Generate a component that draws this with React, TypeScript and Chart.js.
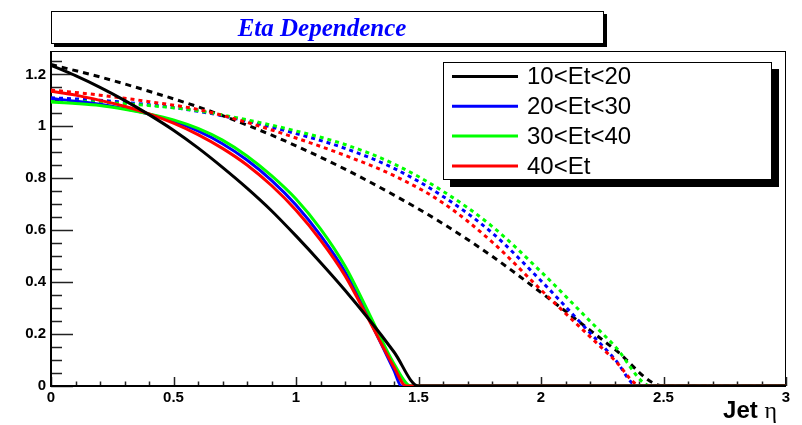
import React, { useEffect, useRef } from "react";
import { Chart, registerables } from "chart.js";

Chart.register(...registerables);

// ---- data ----
const seriesLabels = ["10<Et<20", "20<Et<30", "30<Et<40", "40<Et"];
const seriesColors = ["#000000", "#0000ff", "#00ff00", "#ff0000"];

// solid curves
const etaSolid = [0, 0.1, 0.2, 0.3, 0.4, 0.5, 0.6, 0.7, 0.8, 0.9, 1.0, 1.1, 1.2, 1.3, 1.4];
const solidEt10 = [1.235, 1.195, 1.15, 1.1, 1.045, 0.985, 0.917, 0.842, 0.762, 0.675, 0.578, 0.476, 0.369, 0.254, 0.131];
const solidEt20 = [1.107, 1.097, 1.085, 1.068, 1.047, 1.02, 0.982, 0.933, 0.87, 0.792, 0.697, 0.58, 0.44, 0.255, 0.06];
const solidEt30 = [1.094, 1.088, 1.08, 1.066, 1.048, 1.025, 0.992, 0.947, 0.886, 0.81, 0.72, 0.605, 0.462, 0.276, 0.086];
const solidEt40 = [1.135, 1.12, 1.1, 1.077, 1.048, 1.012, 0.968, 0.915, 0.851, 0.772, 0.677, 0.562, 0.425, 0.25, 0.073];
const solidZeroAt = [1.5, 1.43, 1.47, 1.45];

// dashed curves
const etaDashed = [0, 0.2, 0.4, 0.6, 0.8, 1.0, 1.2, 1.4, 1.6, 1.8, 2.0, 2.2, 2.3];
const dashedEt10 = [1.238, 1.19, 1.135, 1.075, 1.005, 0.925, 0.835, 0.735, 0.625, 0.5, 0.36, 0.215, 0.142];
const dashedEt20 = [1.11, 1.1, 1.083, 1.058, 1.02, 0.972, 0.915, 0.838, 0.73, 0.59, 0.405, 0.205, 0.105];
const dashedEt30 = [1.1, 1.093, 1.08, 1.06, 1.025, 0.982, 0.93, 0.855, 0.75, 0.615, 0.44, 0.25, 0.155];
const dashedEt40 = [1.14, 1.12, 1.095, 1.065, 1.015, 0.955, 0.888, 0.81, 0.705, 0.555, 0.37, 0.19, 0.1];
const dashedZeroAt = [2.5, 2.395, 2.45, 2.41];

const etaMax = 3;
const xTickValues = [0, 0.5, 1, 1.5, 2, 2.5, 3];
const xTickLabels = ["0", "0.5", "1", "1.5", "2", "2.5", "3"];
const yTickValues = [0, 0.2, 0.4, 0.6, 0.8, 1.0, 1.2];
const yTickLabels = ["0", "0.2", "0.4", "0.6", "0.8", "1", "1.2"];
const yMax = 1.29;

const titleText = "Eta Dependence";

const SANS = "'Liberation Sans', Arial, Helvetica, sans-serif";
const SERIF = "'Liberation Serif', 'Times New Roman', serif";

function buildCurve(xs: number[], ys: number[], zeroAt: number) {
  const pts = xs.map((x, i) => ({ x, y: ys[i] }));
  pts.push({ x: zeroAt, y: 0 });
  pts.push({ x: etaMax, y: 0 });
  return pts;
}

const framePlugin = {
  id: "rootFrame",
  beforeDatasetsDraw(chart: any) {
    const ctx = chart.ctx;
    const { left, right, top, bottom } = chart.chartArea;
    const xs = chart.scales.x;
    const ys = chart.scales.y;
    ctx.save();
    // frame
    ctx.strokeStyle = "#000";
    ctx.lineWidth = 1;
    ctx.strokeRect(left + 0.5, top + 0.5, right - left - 1, bottom - top - 1);
    // ticks
    ctx.strokeStyle = "#222";
    ctx.lineWidth = 1.5;
    ctx.beginPath();
    for (let i = 0; i <= 30; i++) {
      const v = i * 0.1;
      const px = Math.round(xs.getPixelForValue(v)) + 0.5;
      const len = i % 5 === 0 ? 9 : 4.5;
      ctx.moveTo(px, bottom);
      ctx.lineTo(px, bottom - len);
    }
    for (let i = 0; i <= 25; i++) {
      const v = i * 0.05;
      if (v > yMax) break;
      const py = Math.round(ys.getPixelForValue(v)) + 0.5;
      const len = i % 4 === 0 ? 22 : 11;
      ctx.moveTo(left, py);
      ctx.lineTo(left + len, py);
    }
    ctx.stroke();
    // axis lines
    ctx.strokeStyle = "#000";
    ctx.lineWidth = 2;
    ctx.beginPath();
    ctx.moveTo(left, top);
    ctx.lineTo(left, bottom);
    ctx.lineTo(right, bottom);
    ctx.stroke();
    ctx.restore();
  },
  afterDatasetsDraw(chart: any) {
    const ctx = chart.ctx;
    ctx.save();
    // title box
    const tx = 51, ty = 11, tw = 553, th = 33;
    ctx.fillStyle = "#000";
    ctx.fillRect(tx + 3, ty + 3, tw, th);
    ctx.fillStyle = "#fff";
    ctx.fillRect(tx, ty, tw, th);
    ctx.strokeStyle = "#000";
    ctx.lineWidth = 1;
    ctx.strokeRect(tx + 0.5, ty + 0.5, tw - 1, th - 1);
    ctx.fillStyle = "#0000ff";
    ctx.font = `italic bold 25px ${SERIF}`;
    ctx.textAlign = "center";
    ctx.textBaseline = "alphabetic";
    ctx.fillText(titleText, 322, 36);

    // legend
    const lx = 443, ly = 62, lw = 329, lh = 118;
    ctx.fillStyle = "#000";
    ctx.fillRect(lx + 7, ly + 7, lw, lh);
    ctx.fillStyle = "#fff";
    ctx.fillRect(lx, ly, lw, lh);
    ctx.strokeStyle = "#000";
    ctx.lineWidth = 1;
    ctx.strokeRect(lx + 0.5, ly + 0.5, lw - 1, lh - 1);
    ctx.font = `24px ${SANS}`;
    ctx.textAlign = "left";
    ctx.textBaseline = "middle";
    seriesLabels.forEach((lab, i) => {
      const yRow = 76.5 + i * 29.8;
      ctx.strokeStyle = seriesColors[i];
      ctx.lineWidth = 3;
      ctx.beginPath();
      ctx.moveTo(452, yRow);
      ctx.lineTo(518, yRow);
      ctx.stroke();
      ctx.fillStyle = "#000";
      ctx.fillText(lab, 527, yRow + 1);
    });

    // x axis title
    ctx.textBaseline = "alphabetic";
    ctx.textAlign = "left";
    ctx.font = `bold 24px ${SANS}`;
    const jetW = ctx.measureText("Jet ").width;
    ctx.font = `24px ${SERIF}`;
    const etaW = ctx.measureText("\u03b7").width;
    const endX = 777;
    const startX = endX - etaW - jetW;
    ctx.fillStyle = "#000";
    ctx.font = `bold 24px ${SANS}`;
    ctx.fillText("Jet ", startX, 418);
    ctx.font = `24px ${SERIF}`;
    ctx.fillText("\u03b7", startX + jetW, 418);
    ctx.restore();
  },
};

export default function App() {
  const ref = useRef<HTMLCanvasElement>(null);
  useEffect(() => {
    if (!ref.current) return;
    const solidVals = [solidEt10, solidEt20, solidEt30, solidEt40];
    const dashedVals = [dashedEt10, dashedEt20, dashedEt30, dashedEt40];
    const datasets: any[] = [];
    dashedVals.forEach((vals, i) => {
      datasets.push({
        label: seriesLabels[i] + " dashed",
        data: buildCurve(etaDashed, vals, dashedZeroAt[i]),
        borderColor: seriesColors[i],
        borderWidth: 3,
        borderDash: i === 0 ? [6, 5] : [4, 4],
        pointRadius: 0,
        fill: false,
        cubicInterpolationMode: "monotone",
        order: 10 - i,
      });
    });
    solidVals.forEach((vals, i) => {
      datasets.push({
        label: seriesLabels[i],
        data: buildCurve(etaSolid, vals, solidZeroAt[i]),
        borderColor: seriesColors[i],
        borderWidth: 3,
        pointRadius: 0,
        fill: false,
        cubicInterpolationMode: "monotone",
        order: i === 0 ? 0 : 5 - i,
      });
    });

    const tickFont = { family: SANS, size: 15, weight: "bold" as const };
    const chart = new Chart(ref.current, {
      type: "line",
      data: { datasets },
      options: {
        animation: false,
        responsive: false,
        devicePixelRatio: 1,
        parsing: false as any,
        layout: { padding: { left: 0, right: 16, top: 51, bottom: 0 } },
        plugins: { legend: { display: false }, tooltip: { enabled: false }, title: { display: false } },
        scales: {
          x: {
            type: "linear",
            min: 0,
            max: etaMax,
            afterBuildTicks: (s: any) => {
              s.ticks = xTickValues.map((v) => ({ value: v }));
            },
            afterFit: (s: any) => {
              s.height = 39;
            },
            ticks: {
              callback: (_v: any, i: number) => xTickLabels[i],
              font: tickFont,
              color: "#000",
              padding: 3,
              maxRotation: 0,
              autoSkip: false,
            },
            grid: { display: false, drawTicks: false },
            border: { display: false },
          },
          y: {
            type: "linear",
            min: 0,
            max: yMax,
            afterBuildTicks: (s: any) => {
              s.ticks = yTickValues.map((v) => ({ value: v }));
            },
            afterFit: (s: any) => {
              s.width = 51;
            },
            ticks: {
              callback: (_v: any, i: number) => yTickLabels[i],
              font: tickFont,
              color: "#000",
              padding: 5,
              autoSkip: false,
            },
            grid: { display: false, drawTicks: false },
            border: { display: false },
          },
        },
      },
      plugins: [framePlugin],
    });
    return () => chart.destroy();
  }, []);

  return (
    <div style={{ position: "fixed", left: 0, top: 0, width: 802, height: 425, background: "#fff" }}>
      <canvas ref={ref} width={802} height={425} style={{ display: "block", width: 802, height: 425 }} />
    </div>
  );
}
